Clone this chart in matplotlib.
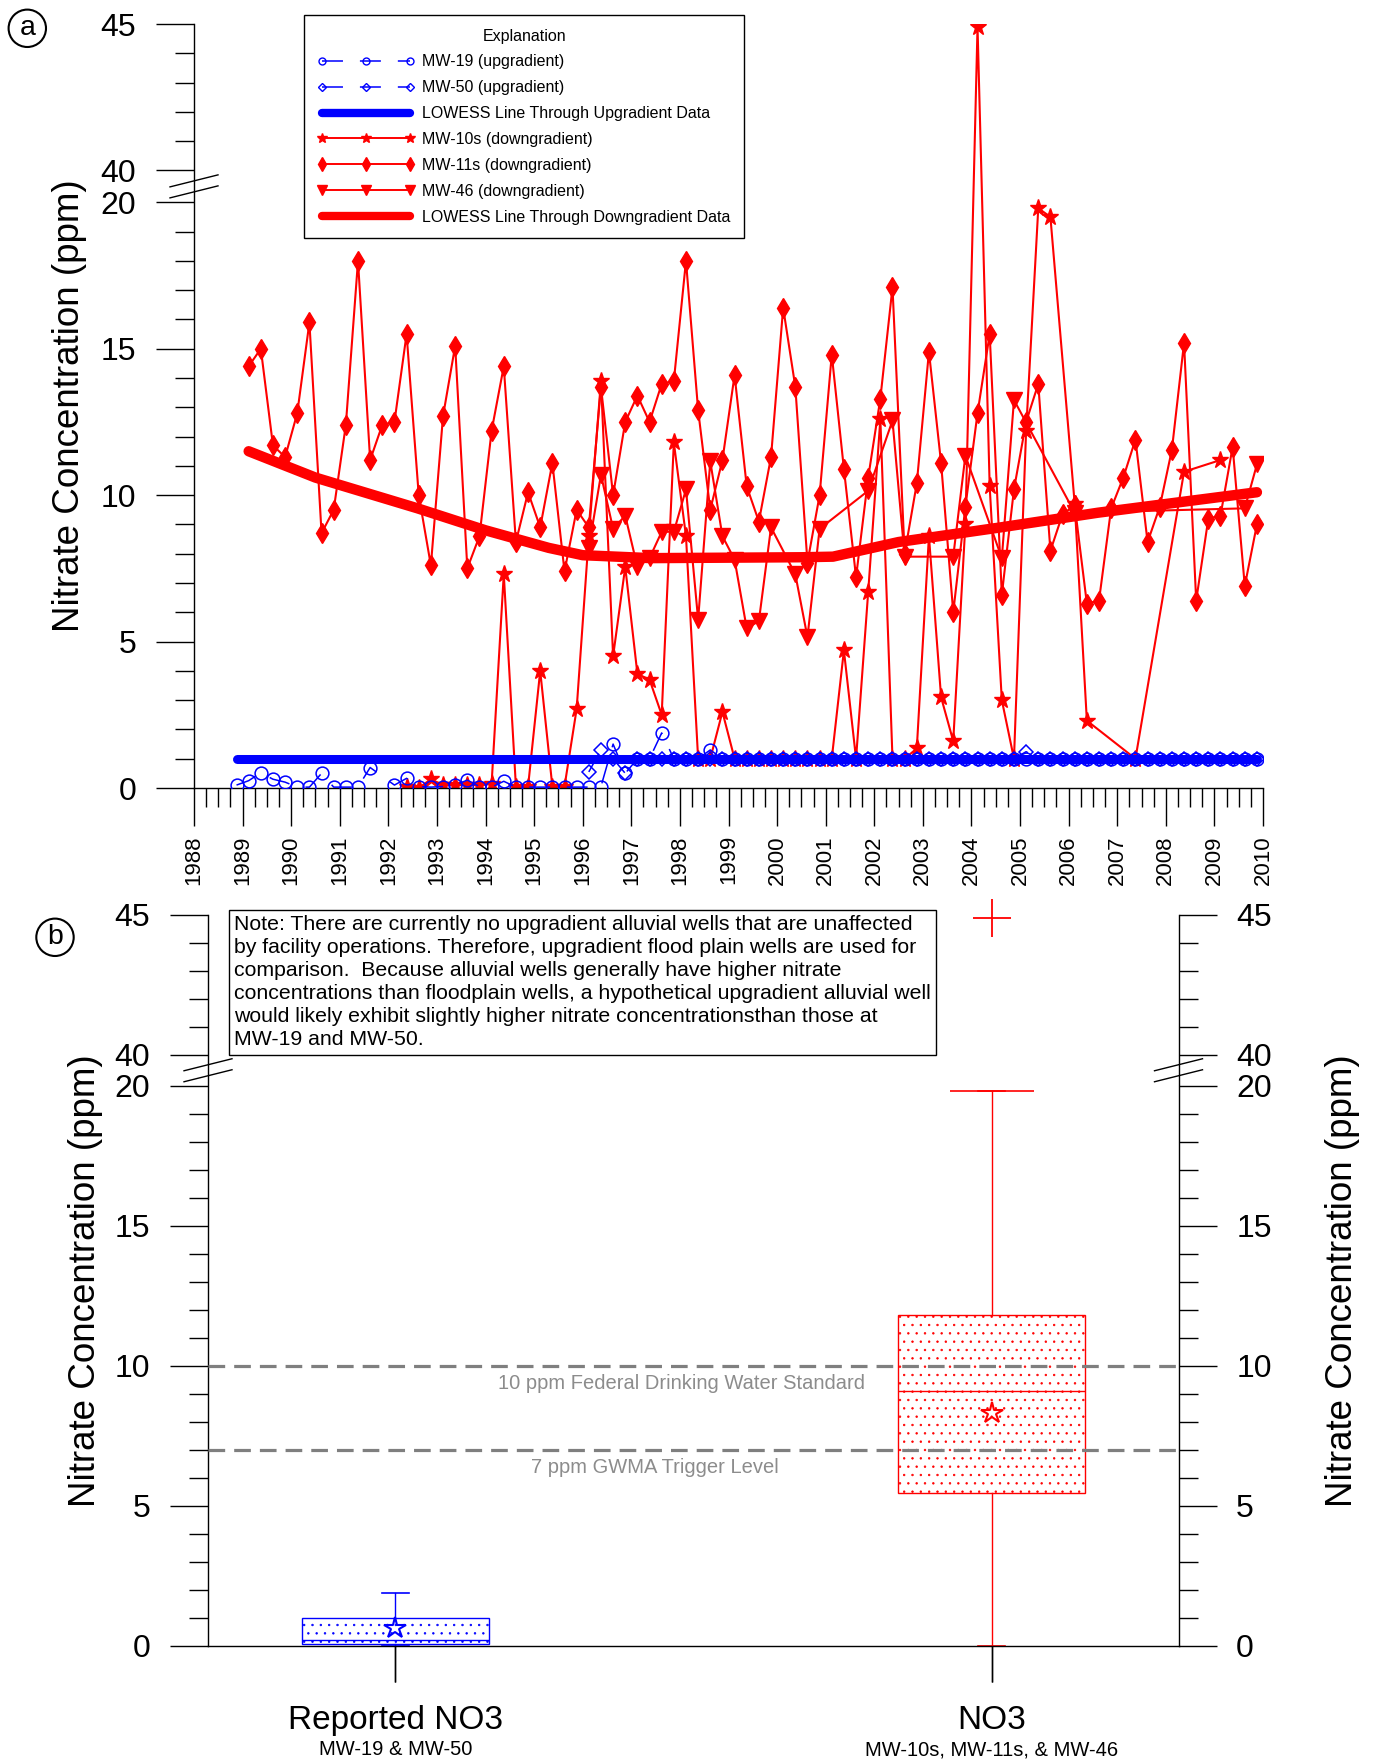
import numpy as np
import matplotlib
matplotlib.use("Agg")
import matplotlib.pyplot as plt
from matplotlib.lines import Line2D
from matplotlib.ticker import FixedLocator, MultipleLocator
from matplotlib.transforms import blended_transform_factory, IdentityTransform

plt.rcParams['font.family'] = ['Liberation Sans', 'DejaVu Sans']
plt.rcParams['lines.scale_dashes'] = False
plt.rcParams['hatch.linewidth'] = 0.5

# ---- data ----------------------------------------------------------------
# MW-19 (upgradient), quarterly
mw19_yr = [1988.875,
           1989.125, 1989.375, 1989.625, 1989.875,
           1990.125, 1990.375, 1990.625, 1990.875,
           1991.125, 1991.375, 1991.625,
           1992.125, 1992.375, 1992.625, 1992.875,
           1993.125, 1993.375, 1993.625, 1993.875,
           1994.125, 1994.375, 1994.625, 1994.875,
           1995.125, 1995.375, 1995.625, 1995.875,
           1996.125, 1996.375, 1996.625, 1996.875,
           1997.125, 1997.375, 1997.625, 1997.875,
           1998.125, 1998.375, 1998.625, 1998.875,
           1999.125, 1999.375, 1999.625, 1999.875,
           2000.125, 2000.375, 2000.625, 2000.875,
           2001.125, 2001.375, 2001.625, 2001.875,
           2002.125, 2002.375, 2002.625, 2002.875,
           2003.125, 2003.375, 2003.625, 2003.875,
           2004.125, 2004.375, 2004.625, 2004.875,
           2005.125, 2005.375, 2005.625, 2005.875,
           2006.125, 2006.375, 2006.625, 2006.875,
           2007.125, 2007.375, 2007.625, 2007.875,
           2008.125, 2008.375, 2008.625, 2008.875,
           2009.125, 2009.375, 2009.625, 2009.875]
mw19_val = [0.10,
            0.25, 0.52, 0.30, 0.20,
            0.03, 0.03, 0.50, 0.03,
            0.03, 0.03, 0.70,
            0.10, 0.33, 0.05, 0.03,
            0.05, 0.10, 0.27, 0.05,
            0.03, 0.23, 0.03, 0.03,
            0.03, 0.03, 0.03, 0.03,
            0.03, 0.05, 1.50, 0.50,
            1.00, 1.00, 1.88, 1.00,
            1.00, 1.00, 1.30, 1.00,
            1.00, 1.00, 1.00, 1.00,
            1.00, 1.00, 1.00, 1.00,
            1.00, 1.00, 1.00, 1.00,
            1.00, 1.00, 1.00, 1.00,
            1.00, 1.00, 1.00, 1.00,
            1.00, 1.00, 1.00, 1.00,
            1.00, 1.00, 1.00, 1.00,
            1.00, 1.00, 1.00, 1.00,
            1.00, 1.00, 1.00, 1.00,
            1.00, 1.00, 1.00, 1.00,
            1.00, 1.00, 1.00, 1.00]

# MW-50 (upgradient)
mw50_yr = [1996.125, 1996.375, 1996.625, 1996.875,
           1997.125, 1997.375, 1997.625, 1997.875,
           1998.125, 1998.375, 1998.625, 1998.875,
           1999.125, 1999.375, 1999.625, 1999.875,
           2000.125, 2000.375, 2000.625, 2000.875,
           2001.125, 2001.375, 2001.625, 2001.875,
           2002.125, 2002.375, 2002.625, 2002.875,
           2003.125, 2003.375, 2003.625, 2003.875,
           2004.125, 2004.375, 2004.625, 2004.875,
           2005.125, 2005.375, 2005.625, 2005.875,
           2006.125, 2006.375, 2006.625, 2006.875,
           2007.125, 2007.375, 2007.625, 2007.875,
           2008.125, 2008.375, 2008.625, 2008.875,
           2009.125, 2009.375, 2009.625, 2009.875]
mw50_val = [0.55, 1.30, 1.00, 0.50,
            1.00, 1.00, 1.00, 1.00,
            1.00, 1.00, 1.00, 1.00,
            1.00, 1.00, 1.00, 1.00,
            1.00, 1.00, 1.00, 1.00,
            1.00, 1.00, 1.00, 1.00,
            1.00, 1.00, 1.00, 1.00,
            1.00, 1.00, 1.00, 1.00,
            1.00, 1.00, 1.00, 1.00,
            1.24, 1.00, 1.00, 1.00,
            1.00, 1.00, 1.00, 1.00,
            1.00, 1.00, 1.00, 1.00,
            1.00, 1.00, 1.00, 1.00,
            1.00, 1.00, 1.00, 1.00]

# MW-10s (downgradient)
mw10s_yr = [1992.375, 1992.625, 1992.875,
            1993.125, 1993.375, 1993.625, 1993.875,
            1994.125, 1994.375, 1994.625, 1994.875,
            1995.125, 1995.375, 1995.625, 1995.875,
            1996.125, 1996.375, 1996.625, 1996.875,
            1997.125, 1997.375, 1997.625, 1997.875,
            1998.125, 1998.375, 1998.625, 1998.875,
            1999.125, 1999.375, 1999.625, 1999.875,
            2000.125, 2000.375, 2000.625, 2000.875,
            2001.125, 2001.375, 2001.625, 2001.875,
            2002.125, 2002.375, 2002.625, 2002.875,
            2003.125, 2003.375, 2003.625, 2003.875,
            2004.125, 2004.375, 2004.625, 2004.875,
            2005.125, 2005.375, 2005.625,
            2006.125, 2006.375,
            2007.375, 2008.375, 2009.125]
mw10s_val = [0.05, 0.00, 0.30,
             0.10, 0.10, 0.10, 0.10,
             0.15, 7.30, 0.05, 0.05,
             4.00, 0.05, 0.05, 2.70,
             8.60, 13.90, 4.50, 7.55,
             3.90, 3.70, 2.50, 11.80,
             8.60, 1.00, 1.00, 2.60,
             1.00, 1.00, 1.00, 1.00,
             1.00, 1.00, 1.00, 1.00,
             1.00, 4.70, 1.00, 6.70,
             12.60, 1.00, 1.00, 1.35,
             8.60, 3.10, 1.60, 9.00,
             44.90, 10.30, 3.00, 1.00,
             12.20, 19.80, 19.50,
             9.70, 2.30,
             1.00, 10.80, 11.20]

# MW-11s (downgradient), quarterly
mw11s_yr = [1989.125, 1989.375, 1989.625, 1989.875,
            1990.125, 1990.375, 1990.625, 1990.875,
            1991.125, 1991.375, 1991.625, 1991.875,
            1992.125, 1992.375, 1992.625, 1992.875,
            1993.125, 1993.375, 1993.625, 1993.875,
            1994.125, 1994.375, 1994.625, 1994.875,
            1995.125, 1995.375, 1995.625, 1995.875,
            1996.125, 1996.375, 1996.625, 1996.875,
            1997.125, 1997.375, 1997.625, 1997.875,
            1998.125, 1998.375, 1998.625, 1998.875,
            1999.125, 1999.375, 1999.625, 1999.875,
            2000.125, 2000.375, 2000.625, 2000.875,
            2001.125, 2001.375, 2001.625, 2001.875,
            2002.125, 2002.375, 2002.625, 2002.875,
            2003.125, 2003.375, 2003.625, 2003.875,
            2004.125, 2004.375, 2004.625, 2004.875,
            2005.125, 2005.375, 2005.625, 2005.875,
            2006.125, 2006.375, 2006.625, 2006.875,
            2007.125, 2007.375, 2007.625, 2007.875,
            2008.125, 2008.375, 2008.625, 2008.875,
            2009.125, 2009.375, 2009.625, 2009.875]
mw11s_val = [14.4, 15.0, 11.7, 11.3,
             12.8, 15.9, 8.7, 9.5,
             12.4, 18.0, 11.2, 12.4,
             12.5, 15.5, 10.0, 7.6,
             12.7, 15.1, 7.5, 8.6,
             12.2, 14.4, 8.4, 10.1,
             8.9, 11.1, 7.4, 9.5,
             8.9, 13.7, 10.0, 12.5,
             13.4, 12.5, 13.8, 13.9,
             18.0, 12.9, 9.5, 11.2,
             14.1, 10.3, 9.1, 11.3,
             16.4, 13.7, 7.7, 10.0,
             14.8, 10.9, 7.2, 10.6,
             13.3, 17.1, 8.0, 10.4,
             14.9, 11.1, 6.0, 9.6,
             12.8, 15.5, 6.6, 10.2,
             12.5, 13.8, 8.1, 9.35,
             9.65, 6.3, 6.4, 9.55,
             10.6, 11.9, 8.4, 9.6,
             11.55, 15.2, 6.4, 9.2,
             9.3, 11.65, 6.9, 9.0]

# MW-46 (downgradient)
mw46_yr = [1996.125, 1996.375, 1996.625, 1996.875,
           1997.125, 1997.375, 1997.625, 1997.875,
           1998.125, 1998.375, 1998.625, 1998.875,
           1999.125, 1999.375, 1999.625, 1999.875,
           2000.375, 2000.625, 2000.875,
           2001.875,
           2002.375, 2002.625,
           2003.625, 2003.875,
           2004.625, 2004.875,
           2006.125,
           2009.625, 2009.875]
mw46_val = [8.2, 10.7, 8.85, 9.3,
            7.55, 7.85, 8.75, 8.75,
            10.2, 5.75, 11.15, 8.6,
            7.8, 5.45, 5.7, 8.9,
            7.3, 5.15, 8.85,
            10.15,
            12.55, 7.9,
            7.9, 11.35,
            7.85, 13.25,
            9.4,
            9.55, 11.05]

# LOWESS lines
lowess_up_yr = [1988.875, 2009.875]
lowess_up_val = [1.0, 1.0]
lowess_down_yr = [1989.125, 1990.5, 1992.6, 1994.0, 1995.3, 1996.0, 1997.4,
                  2000.5, 2001.15, 2002.5, 2004.6, 2006.6, 2009.875]
lowess_down_val = [11.5, 10.6, 9.55, 8.8, 8.2, 7.95, 7.85,
                   7.88, 7.9, 8.4, 8.9, 9.4, 10.1]

# box plot summary (panel b)
box_labels = ['Reported NO3', 'NO3']
box_sub = ['MW-19 & MW-50', 'MW-10s, MW-11s, & MW-46']
box_q1 = [0.05, 5.45]
box_med = [0.2, 9.08]
box_q3 = [1.0, 11.8]
box_lo = [0.0, 0.0]
box_hi = [1.88, 19.8]
box_mean = [0.62, 8.3]
box_fliers = [[], [44.9]]
box_colors = ['blue', 'red']

ref_levels = [10, 7]
ref_labels = ['10 ppm Federal Drinking Water Standard', '7 ppm GWMA Trigger Level']

note = ("Note: There are currently no upgradient alluvial wells that are unaffected\n"
        "by facility operations. Therefore, upgradient flood plain wells are used for\n"
        "comparison.  Because alluvial wells generally have higher nitrate\n"
        "concentrations than floodplain wells, a hypothetical upgradient alluvial well\n"
        "would likely exhibit slightly higher nitrate concentrationsthan those at\n"
        "MW-19 and MW-50.")

# ---- broken y scale (20 -> 40 squeezed) -----------------------------------
GAP = 1.09


def fwd(v):
    v = np.asarray(v, dtype=float)
    return np.where(v <= 20, v, np.where(v >= 40, v - 40 + 20 + GAP, 20 + (v - 20) * GAP / 20))


def inv(u):
    u = np.asarray(u, dtype=float)
    return np.where(u <= 20, u, np.where(u >= 20 + GAP, u - 20 - GAP + 40, 20 + (u - 20) * 20 / GAP))


W, H = 1377, 1761
fig = plt.figure(figsize=(W / 100, H / 100), dpi=100)

ax1 = fig.add_axes([194 / W, 1 - 788 / H, (1263 - 194) / W, (788 - 24) / H])
ax2 = fig.add_axes([208 / W, 1 - 1645.5 / H, (1178.5 - 208) / W, (1645.5 - 915) / H])

yt = [0, 5, 10, 15, 20, 40, 45]
ymin = [v for v in range(1, 20) if v % 5] + [41, 42, 43, 44]

for ax in (ax1, ax2):
    ax.set_yscale('function', functions=(fwd, inv))
    ax.set_ylim(0, 45)
    ax.set_yticks(yt, labels=[str(v) for v in yt])
    ax.yaxis.set_minor_locator(FixedLocator(ymin))
    ax.spines['top'].set_visible(False)
    for s in ax.spines.values():
        s.set_linewidth(1.0)

# ---- panel a ---------------------------------------------------------------
ax1.spines['right'].set_visible(False)
ax1.set_xlim(1988, 2010)
ax1.set_xticks(range(1988, 2011), labels=[str(y) for y in range(1988, 2011)])
ax1.xaxis.set_minor_locator(MultipleLocator(0.25))
ax1.tick_params(axis='x', which='major', length=27, width=1, pad=7, labelsize=16, labelrotation=90)
ax1.tick_params(axis='x', which='minor', length=13.5, width=1)
ax1.tick_params(axis='y', which='major', length=27.5, width=1, pad=14, labelsize=23)
ax1.tick_params(axis='y', which='minor', length=14, width=1)

red_kw = dict(color='red', lw=1.5, mec='red', mfc='red', zorder=2)
ax1.plot(mw11s_yr, mw11s_val, marker='d', ms=10, **red_kw)
ax1.plot(mw46_yr, mw46_val, marker='v', ms=11.5, **red_kw)
ax1.plot(mw10s_yr, mw10s_val, marker='*', ms=12.5, **red_kw)
ax1.plot(lowess_down_yr, lowess_down_val, color='red', lw=7.5, solid_capstyle='round',
         solid_joinstyle='round', zorder=3)
ax1.plot(lowess_up_yr, lowess_up_val, color='blue', lw=6.5, solid_capstyle='round', zorder=4)
ax1.plot(mw19_yr, mw19_val, color='blue', lw=1.1, dashes=(15, 12), marker='o', ms=9.2,
         mfc='none', mec='blue', mew=1.1, zorder=5)
ax1.plot(mw50_yr, mw50_val, color='blue', lw=1.1, dashes=(15, 12), marker='D', ms=7,
         mfc='none', mec='blue', mew=1.1, zorder=5)

ax1.text(-0.116, 0.5, 'Nitrate Concentration (ppm)', transform=ax1.transAxes,
         rotation=90, ha='center', va='center', fontsize=26.5)

handles = [
    Line2D([], [], color='blue', lw=1.1, dashes=(15.1, 12.2), marker='o', ms=5, mfc='none', mew=1.0),
    Line2D([], [], color='blue', lw=1.1, dashes=(15.1, 12.2), marker='D', ms=4, mfc='none', mew=1.0),
    Line2D([], [], color='blue', lw=6, solid_capstyle='round'),
    Line2D([], [], color='red', lw=1.4, marker='*', ms=7.5),
    Line2D([], [], color='red', lw=1.4, marker='d', ms=7),
    Line2D([], [], color='red', lw=1.4, marker='v', ms=6.5),
    Line2D([], [], color='red', lw=6, solid_capstyle='round'),
]
labels = ['MW-19 (upgradient)', 'MW-50 (upgradient)', 'LOWESS Line Through Upgradient Data',
          'MW-10s (downgradient)', 'MW-11s (downgradient)', 'MW-46 (downgradient)',
          'LOWESS Line Through Downgradient Data']
leg = ax1.legend(handles, labels, title='Explanation', loc='upper left',
                 bbox_to_anchor=(304 / W, 1 - 15 / H), bbox_transform=fig.transFigure,
                 fontsize=11.5, title_fontsize=11.5, numpoints=3, handlelength=6.1,
                 handletextpad=0.45, labelspacing=0.68, borderpad=0.85, borderaxespad=0,
                 fancybox=False, edgecolor='black', framealpha=1)
leg.get_frame().set_linewidth(1.0)
leg.set_zorder(10)

# ---- panel b ---------------------------------------------------------------
ax2.set_xlim(0.6858, 2.313)
ax2.set_xticks([1, 2])
ax2.tick_params(axis='x', which='major', length=26, width=1, labelbottom=False)
ax2.tick_params(axis='y', which='both', left=True, right=True, labelleft=True, labelright=True)
ax2.tick_params(axis='y', which='major', length=27.5, width=1, pad=14, labelsize=23)
ax2.tick_params(axis='y', which='minor', length=14, width=1)

stats = []
for i in range(2):
    stats.append(dict(med=box_med[i], q1=box_q1[i], q3=box_q3[i], whislo=box_lo[i],
                      whishi=box_hi[i], mean=box_mean[i], fliers=box_fliers[i]))
bp = ax2.bxp(stats, positions=[1, 2], widths=0.313, patch_artist=True, showmeans=True,
             showfliers=True, capwidths=0.045)
for i, c in enumerate(box_colors):
    box = bp['boxes'][i]
    box.set_facecolor('white')
    box.set_edgecolor(c)
    box.set_linewidth(1.0)
    box.set_hatch('..')
    box.set_zorder(2)
    bp['medians'][i].set(color=c, lw=1.0, zorder=3)
    for w in bp['whiskers'][2 * i:2 * i + 2]:
        w.set(color=c, lw=1.0)
    for cp in bp['caps'][2 * i:2 * i + 2]:
        cp.set(color=c, lw=1.2)
    bp['means'][i].set(marker='*', ms=16, mfc='none', mec=c, mew=1.5, zorder=6)
    bp['fliers'][i].set(marker='+', ms=28, mec=c, mew=1.3, clip_on=False)
# wider top cap on the downgradient box
ax2.hlines(box_hi[1], 2 - 0.0705, 2 + 0.0705, color=box_colors[1], lw=1.2)

ref_x = [1.48, 1.435]
for lvl, lab, x in zip(ref_levels, ref_labels, ref_x):
    ax2.axhline(lvl, color='#7f7f7f', lw=2.3, dashes=(12, 6.5), zorder=4)
    ax2.annotate(lab, xy=(x, lvl), xytext=(0, -13), textcoords='offset points',
                 ha='center', va='center', fontsize=14.5, color='#8c8c8c')

bt = blended_transform_factory(ax2.transData, ax2.transAxes)
for i in range(2):
    ax2.text(i + 1, -0.102, box_labels[i], transform=bt, ha='center', va='center', fontsize=24)
    ax2.text(i + 1, -0.143, box_sub[i], transform=bt, ha='center', va='center', fontsize=14.5)

ax2.text(-0.1267, 0.5, 'Nitrate Concentration (ppm)', transform=ax2.transAxes,
         rotation=90, ha='center', va='center', fontsize=26.5)
ax2.text(1.1685, 0.5, 'Nitrate Concentration (ppm)', transform=ax2.transAxes,
         rotation=90, ha='center', va='center', fontsize=26.5)

fig.text(234 / W, 1 - 915 / H, note, ha='left', va='top', fontsize=15.3, linespacing=1.27,
         bbox=dict(boxstyle='square,pad=0.25', fc='white', ec='black', lw=1.0), zorder=10)


# ---- axis break marks -------------------------------------------------------
def draw_break(ax, xa):
    tr = blended_transform_factory(ax.transAxes, ax.transData)
    px, py = tr.transform((xa, 30))
    for dy in (5.5, -5.5):
        fig.add_artist(Line2D([px - 24, px + 24], [py + dy - 6, py + dy + 6],
                              transform=IdentityTransform(), color='black', lw=1.0, zorder=11))


draw_break(ax1, 0)
draw_break(ax2, 0)
draw_break(ax2, 1)

# panel letters
for (x, y, t) in [(27.3, 28.3, 'a'), (55, 937.3, 'b')]:
    fig.text(x / W, 1 - y / H, t, ha='center', va='center', fontsize=20.5,
             bbox=dict(boxstyle='circle,pad=0.2', fc='none', ec='black', lw=1.5))

fig.savefig('out.png', dpi=100)
